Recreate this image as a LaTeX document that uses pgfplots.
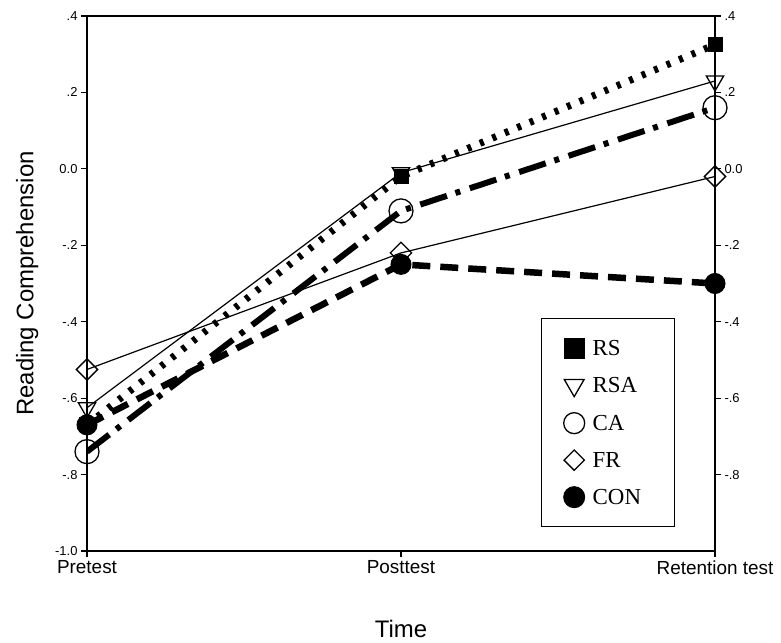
\documentclass[border=0pt]{standalone}
\usepackage{fontspec}
\setmainfont{Liberation Sans}
\newfontfamily\legfont{Liberation Serif}
\usepackage{pgfplots}
\pgfplotsset{compat=1.18}

\begin{document}
\begin{tikzpicture}
\begin{axis}[
  name=main,
  scale only axis, width=628bp, height=535bp,
  xmin=0, xmax=2, ymin=-1, ymax=0.4,
  axis line style={line width=1.5bp},
  xtick={0,1,2}, xticklabels={Pretest,Posttest,Retention test},
  ytick={-1,-0.8,-0.6,-0.4,-0.2,0,0.2,0.4},
  yticklabels={-1.0,-.8,-.6,-.4,-.2,0.0,.2,.4},
  xtick pos=lower, ytick pos=left, tick align=outside,
  major tick length=6bp,
  tick style={line width=1.2bp, black},
  x tick label style={font=\fontsize{19}{22}\selectfont},
  y tick label style={font=\fontsize{13}{15}\selectfont},
  xlabel={Time}, ylabel={Reading Comprehension},
  label style={font=\fontsize{24}{28}\selectfont},
  xlabel style={at={(axis description cs:0.5,-0.162)}, anchor=base, inner sep=0pt},
  ylabel style={at={(axis description cs:-0.0855,0.5)}, anchor=base, inner sep=0pt},
  legend image code/.code={\draw[#1] plot coordinates {(0bp,0bp)};},
  legend style={at={(axis description cs:0.723,0.4355)}, anchor=north west,
    draw=black, line width=1.3bp, inner xsep=22bp, inner ysep=19bp,
    row sep=16bp, column sep=5bp,
    font=\legfont\fontsize{23}{27}\selectfont,
    cells={anchor=west},
    nodes={inner sep=3bp, text height=15bp, text depth=0bp, text width=57bp, align=left}},
]
% RS
\addplot[forget plot, black, line width=7bp, dash pattern=on 4bp off 9.5bp,
  mark=square*, mark size=7bp, mark options={solid, line width=1bp}]
  coordinates {(0,-0.67) (1,-0.02) (2,0.325)};
% RSA
\addplot[forget plot, black, line width=1.2bp,
  mark=triangle, mark size=10bp, mark options={solid, rotate=180, line width=1.3bp}]
  coordinates {(0,-0.625) (1,-0.01) (2,0.23)};
% CA
\addplot[forget plot, black, line width=6bp, dash pattern=on 28bp off 9bp on 5bp off 10bp,
  mark=o, mark size=12bp, mark options={solid, line width=1.3bp}]
  coordinates {(0,-0.74) (1,-0.11) (2,0.16)};
% FR
\addplot[forget plot, black, line width=1.2bp,
  mark=square, mark size=7.5bp, mark options={solid, rotate=45, line width=1.3bp}]
  coordinates {(0,-0.525) (1,-0.22) (2,-0.02)};
% CON
\addplot[forget plot, black, line width=6.5bp, dash pattern=on 18bp off 10bp,
  mark=*, mark size=10bp, mark options={solid, line width=1bp}]
  coordinates {(0,-0.67) (1,-0.25) (2,-0.30)};

\addlegendimage{only marks, black, mark=square*, mark size=10bp, line width=1bp}
\addlegendentry{RS}
\addlegendimage{only marks, black, mark=triangle, mark size=11.5bp, mark options={rotate=180}, line width=1.3bp}
\addlegendentry{RSA}
\addlegendimage{only marks, black, mark=o, mark size=10.5bp, line width=1.3bp}
\addlegendentry{CA}
\addlegendimage{only marks, black, mark=square, mark size=7.2bp, mark options={rotate=45}, line width=1.3bp}
\addlegendentry{FR}
\addlegendimage{only marks, black, mark=*, mark size=10.5bp, line width=1bp}
\addlegendentry{CON}
\end{axis}

\begin{axis}[
  at={(main.south west)}, anchor=south west,
  scale only axis, width=628bp, height=535bp,
  xmin=0, xmax=2, ymin=-1, ymax=0.4,
  axis x line=none, axis y line*=right,
  axis line style={line width=1.5bp, -},
  ytick={-0.8,-0.6,-0.4,-0.2,0,0.2,0.4},
  yticklabels={-.8,-.6,-.4,-.2,0.0,.2,.4},
  tick align=outside, major tick length=6bp,
  tick style={line width=1.2bp, black},
  y tick label style={font=\fontsize{13}{15}\selectfont},
]
\end{axis}

\pgfresetboundingbox
\path (main.south west) ++(-87bp,-92bp) rectangle ++(781bp,643bp);
\end{tikzpicture}
\end{document}
